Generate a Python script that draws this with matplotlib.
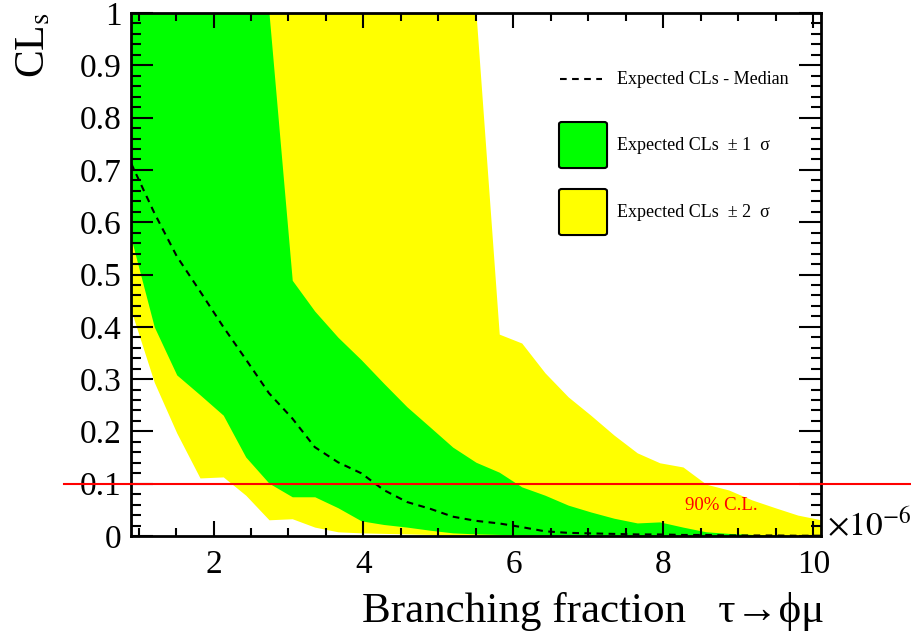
"""
Expected CLs scan for tau -> phi mu with the +-1 sigma / +-2 sigma bands.
"""
import matplotlib
matplotlib.use("Agg")
import matplotlib.pyplot as plt
from matplotlib.lines import Line2D
from matplotlib.patches import FancyBboxPatch
from matplotlib.ticker import MultipleLocator, FuncFormatter

plt.rcParams["font.family"] = ["Liberation Serif", "DejaVu Serif"]
plt.rcParams["mathtext.fontset"] = "stix"

# ── Scan points (branching fraction in units of 1e-6) ────────────────────────
bf = [0.90, 1.21, 1.51, 1.82, 2.13, 2.43, 2.74, 3.05, 3.35, 3.66, 3.97,
      4.27, 4.58, 4.89, 5.19, 5.50, 5.81, 6.11, 6.42, 6.73, 7.03, 7.34,
      7.65, 7.95, 8.26, 8.57, 8.87, 9.18, 9.49, 9.79, 10.10]

cls_median = [0.713, 0.618, 0.535, 0.468, 0.400, 0.338, 0.273, 0.225, 0.170,
              0.141, 0.120, 0.088, 0.065, 0.052, 0.037, 0.029, 0.024, 0.017,
              0.009, 0.006, 0.005, 0.004, 0.003, 0.003, 0.002, 0.002, 0.001,
              0.001, 0.001, 0.0005, 0.0005]

cls_minus1 = [0.570, 0.400, 0.308, 0.270, 0.231, 0.151, 0.101, 0.075, 0.075,
              0.054, 0.029, 0.022, 0.017, 0.011, 0.006, 0.004, 0.003, 0.002,
              0.001, 0.001, 0.001, 0.0, 0.0, 0.0, 0.0, 0.0, 0.0, 0.0, 0.0,
              0.0, 0.0]
cls_plus1 = [1.0, 1.0, 1.0, 1.0, 1.0, 1.0, 1.0, 0.489, 0.430, 0.380, 0.337,
             0.292, 0.247, 0.208, 0.170, 0.141, 0.122, 0.094, 0.078, 0.059,
             0.046, 0.034, 0.025, 0.027, 0.017, 0.008, 0.005, 0.003, 0.002,
             0.001, 0.001]

cls_minus2 = [0.432, 0.294, 0.197, 0.111, 0.113, 0.078, 0.031, 0.033, 0.017,
              0.008, 0.006, 0.005, 0.004, 0.003, 0.002, 0.0015, 0.001, 0.001,
              0.0005, 0.0, 0.0, 0.0, 0.0, 0.0, 0.0, 0.0, 0.0, 0.0, 0.0, 0.0,
              0.0]
cls_plus2 = [1.0, 1.0, 1.0, 1.0, 1.0, 1.0, 1.0, 1.0, 1.0, 1.0, 1.0, 1.0, 1.0,
             1.0, 1.0, 1.0, 0.386, 0.369, 0.312, 0.266, 0.231, 0.193, 0.159,
             0.140, 0.132, 0.099, 0.088, 0.069, 0.054, 0.040, 0.031]

CL_LEVEL = 0.1
CL_SPAN = [0.0, 12.0]

GREEN = "#00ff00"
YELLOW = "#ffff00"
MEDIAN_DASH = (3.2, 2.6)

# ── Figure ────────────────────────────────────────────────────────────────────
fig = plt.figure(figsize=(9.11, 6.35), dpi=100)
ax = fig.add_axes([0.1438, 0.1559, 0.7574, 0.8236])

ax.fill_between(bf, cls_minus2, cls_plus2, color=YELLOW, lw=0, zorder=1)
ax.fill_between(bf, cls_minus1, cls_plus1, color=GREEN, lw=0, zorder=1.1)
ax.plot(bf, cls_median, color="black", lw=1.5, dashes=MEDIAN_DASH, zorder=2)

# 90% CL line runs past the frame on both sides
ax.plot(CL_SPAN, [CL_LEVEL, CL_LEVEL], color="#ff0000", lw=1.5,
        clip_on=False, zorder=5)
ax.text(8.77, 0.05, "90% C.L.", color="#ff0000", fontsize=13.5,
        ha="center", va="baseline")

ax.set_xlim(0.9, 10.1)
ax.set_ylim(0, 1)

# ── Axes styling (ROOT-like frame, ticks inward on all sides) ───────────────
for sp in ax.spines.values():
    sp.set_linewidth(2)
ax.xaxis.set_major_locator(MultipleLocator(2))
ax.xaxis.set_minor_locator(MultipleLocator(0.5))
ax.yaxis.set_major_locator(MultipleLocator(0.1))
ax.yaxis.set_minor_locator(MultipleLocator(0.02))
ax.yaxis.set_major_formatter(FuncFormatter(lambda v, p: f"{v:g}"))
ax.xaxis.set_major_formatter(FuncFormatter(lambda v, p: f"{v:g}"))

ax.tick_params(axis="both", which="both", direction="in",
               top=True, right=True, width=1.5, labelsize=24)
ax.tick_params(axis="y", which="major", length=16, pad=7)
ax.tick_params(axis="y", which="minor", length=7.5)
ax.tick_params(axis="x", which="major", length=11, pad=10)
ax.tick_params(axis="x", which="minor", length=5.5)

ax.text(1.008, 0.0, r"$\times10^{-6}$", transform=ax.transAxes,
        fontsize=24, ha="left", va="baseline")

fig.text(824 / 911, 1 - 622 / 635, "Branching fraction   τ→ϕμ",
         fontsize=31, ha="right", va="baseline")
fig.text(34 / 911, 1 - 12 / 635, r"CL$_{\rm s}$", fontsize=30,
         rotation=90, ha="center", va="top")

# ── Legend (drawn by hand in axes coordinates) ───────────────────────────────
tr = ax.transAxes
ax.add_line(Line2D([0.6217, 0.6826], [0.8738, 0.8738], color="black", lw=1.5,
                   dashes=MEDIAN_DASH, transform=tr, zorder=6))
for y0, col in [(0.7036, GREEN), (0.5755, YELLOW)]:
    ax.add_patch(FancyBboxPatch((0.6203, y0), 0.0696, 0.088,
                                boxstyle="round,pad=0,rounding_size=0.004",
                                facecolor=col, edgecolor="black", lw=1.5,
                                transform=tr, zorder=6))
legend_labels = ["Expected CLs - Median",
                 "Expected CLs  ± 1  σ",
                 "Expected CLs  ± 2  σ"]
for y, lab in zip([0.8738, 0.7476, 0.6195], legend_labels):
    ax.text(0.7043, y, lab, transform=tr, fontsize=13, ha="left",
            va="center", zorder=6)

plt.savefig("out.png", dpi=100)
plt.close()
